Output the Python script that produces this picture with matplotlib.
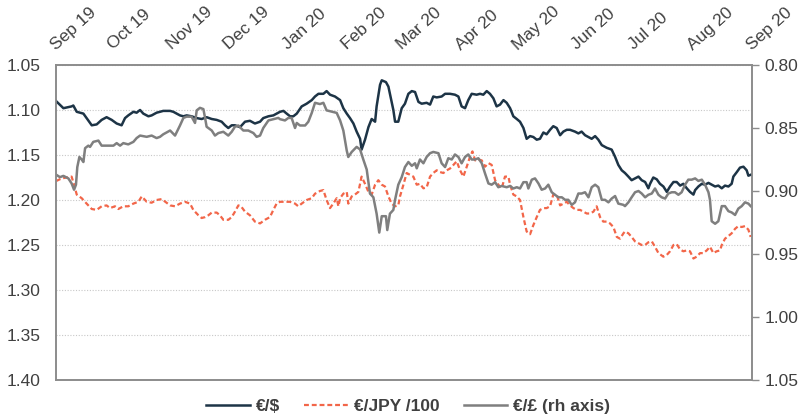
import numpy as np
import pandas as pd
import matplotlib
matplotlib.use("Agg")
import matplotlib.pyplot as plt
import matplotlib.dates as mdates
from matplotlib.ticker import FormatStrFormatter

plt.rcParams['font.family'] = ['Liberation Sans', 'DejaVu Sans']

# ---- data (days since 1 Sep 2019, values) ----
usd_days = [0, 3.9, 8.2, 9.1, 10.9, 14.4, 16.1, 18.8, 21.4, 24.0, 26.6, 29.3, 31.9, 34.5, 36.3, 38.0, 40.7, 42.4, 44.2, 45.9, 48.6, 50.3, 52.9, 56.4,
            60.0, 61.7, 63.5, 65.2, 67.0, 68.7, 71.3, 74.0, 76.6, 79.2, 81.9, 84.5, 87.1, 88.9, 90.6, 92.4, 94.1, 96.8, 99.4, 102.0, 104.6, 107.3, 109.0, 111.7, 114.3, 116.9,
            117.8, 119.6, 121.3, 123.1, 124.8, 126.6, 129.2, 131.8, 134.5, 136.2, 138.0, 140.6, 142.3, 144.1, 146.7, 149.4, 151.1, 152.9, 154.6, 156.4, 158.1, 159.9, 160.7, 162.5, 164.3, 166.0, 167.8, 168.6, 170.4, 171.3, 173.5, 174.8, 175.6, 177.4,
            178.3, 180.0, 181.8, 183.5, 185.3, 187.1, 188.8, 190.6, 192.3, 194.9, 196.7, 198.4, 200.2, 202.8, 204.6, 207.2, 209.8, 211.6, 213.3, 215.1, 216.8, 218.6, 221.2, 223.0, 224.7, 226.5, 228.2, 230.0, 231.7, 233.5, 235.3, 237.0, 238.8,
            240.5, 242.3, 244.0, 245.8, 247.5, 249.3, 251.0, 252.8, 254.5, 256.3, 258.0, 259.8, 261.5, 263.3, 265.1, 266.8, 268.6, 270.3, 272.9, 274.7, 276.4, 278.2, 280.0, 281.7, 283.5, 285.2, 287.0, 289.6, 292.2, 294.0, 295.7, 297.5, 299.2,
            301.0, 302.7, 304.5, 306.3, 308.0, 309.8, 311.5, 312.4, 314.1, 315.9, 317.6, 319.4, 321.2, 322.9, 324.7, 326.4, 328.2, 329.9, 331.7, 333.4, 335.2, 336.1, 337.8, 339.6, 341.3, 343.1, 344.8, 346.6, 348.3, 350.1, 351.8, 353.6, 355.3, 356.2, 358.0, 359.7, 361.5, 363.2, 364.1, 365.3]
usd_vals = [1.090, 1.098, 1.096, 1.095, 1.102, 1.104, 1.109, 1.117, 1.116, 1.111, 1.108, 1.111, 1.115, 1.117, 1.109, 1.106, 1.102, 1.103, 1.100, 1.104, 1.107, 1.106, 1.103, 1.101,
            1.101, 1.102, 1.104, 1.106, 1.107, 1.106, 1.107, 1.109, 1.110, 1.108, 1.110, 1.111, 1.113, 1.117, 1.120, 1.117, 1.117, 1.119, 1.113, 1.112, 1.115, 1.113, 1.109, 1.107, 1.106, 1.103,
            1.102, 1.101, 1.104, 1.107, 1.107, 1.104, 1.096, 1.093, 1.089, 1.085, 1.082, 1.082, 1.079, 1.083, 1.085, 1.089, 1.098, 1.104, 1.109, 1.115, 1.124, 1.132, 1.144, 1.133, 1.119, 1.110, 1.113, 1.096, 1.072, 1.067, 1.069, 1.074, 1.082, 1.100,
            1.113, 1.113, 1.098, 1.093, 1.082, 1.079, 1.080, 1.091, 1.093, 1.092, 1.094, 1.085, 1.086, 1.085, 1.082, 1.082, 1.083, 1.085, 1.096, 1.098, 1.089, 1.082, 1.083, 1.082, 1.083, 1.079, 1.082, 1.087, 1.096, 1.094, 1.089, 1.092, 1.098,
            1.107, 1.110, 1.113, 1.120, 1.132, 1.129, 1.130, 1.133, 1.132, 1.125, 1.127, 1.122, 1.118, 1.120, 1.128, 1.124, 1.122, 1.122, 1.124, 1.126, 1.124, 1.128, 1.130, 1.132, 1.129, 1.133, 1.139, 1.142, 1.144, 1.152, 1.161, 1.167, 1.170,
            1.174, 1.178, 1.176, 1.174, 1.178, 1.180, 1.187, 1.182, 1.175, 1.177, 1.182, 1.185, 1.191, 1.185, 1.180, 1.180, 1.184, 1.182, 1.187, 1.191, 1.194, 1.189, 1.185, 1.182, 1.183, 1.181, 1.183, 1.185, 1.184, 1.187, 1.184, 1.185, 1.182, 1.174, 1.169, 1.164, 1.163, 1.167, 1.173, 1.172]

jpy_days = [0, 3.0, 5.6, 8.2, 9.5, 10.9, 13.5, 16.1, 18.8, 21.4, 24.0, 26.6, 28.4, 31.0, 32.8, 35.4, 38.0, 40.7, 43.3, 45.1, 47.7, 50.3, 52.9, 55.6,
            60.0, 62.6, 65.2, 67.8, 70.5, 72.2, 74.9, 76.6, 78.4, 80.1, 81.9, 84.5, 86.2, 88.0, 90.6, 92.4, 94.1, 95.9, 97.3, 99.4, 102.0, 104.6, 107.3, 109.9, 112.5, 114.3, 116.0,
            117.8, 120.4, 123.1, 125.7, 127.4, 129.2, 131.8, 134.5, 136.2, 138.8, 140.6, 142.3, 144.1, 145.8, 147.6, 148.5, 149.4, 151.1, 152.9, 153.7, 155.5, 157.2, 159.0, 160.7, 162.5, 164.3, 166.0, 167.8, 169.5, 171.3, 173.0, 174.8, 176.5, 178.3,
            180.0, 180.9, 182.7, 184.4, 186.2, 187.9, 189.7, 191.4, 193.2, 194.9, 196.7, 198.4, 200.2, 202.0, 203.7, 205.5, 207.2, 209.0, 210.7, 212.5, 214.2, 216.0, 217.7, 219.0, 220.4, 222.1, 223.9, 225.6, 227.4, 229.1, 230.9, 232.6, 234.4, 236.1, 237.9,
            238.8, 240.5, 242.3, 244.0, 245.8, 247.5, 249.3, 251.0, 252.8, 254.5, 256.3, 258.0, 259.8, 261.5, 263.3, 265.1, 266.8, 268.6, 270.3, 272.1, 273.8, 275.6, 277.3, 279.1, 280.8, 282.6, 284.3, 286.1, 287.8, 289.6, 291.3, 293.1, 294.9, 296.6, 298.4,
            299.2, 301.0, 302.7, 304.5, 306.3, 308.0, 309.8, 311.5, 313.3, 315.0, 316.8, 319.4, 321.2, 322.9, 324.7, 326.4, 328.2, 329.9, 331.7, 333.4, 335.2, 336.9, 338.7, 340.4, 342.2, 343.9, 345.7, 347.4, 349.2, 350.1, 351.8, 353.6, 355.3, 357.1, 358.8, 360.6, 362.3, 364.1, 365.3]
jpy_vals = [1.179, 1.176, 1.175, 1.174, 1.183, 1.194, 1.198, 1.204, 1.210, 1.211, 1.207, 1.206, 1.209, 1.207, 1.210, 1.207, 1.207, 1.204, 1.202, 1.196, 1.202, 1.203, 1.200, 1.199,
            1.206, 1.207, 1.204, 1.202, 1.204, 1.211, 1.217, 1.220, 1.219, 1.217, 1.214, 1.214, 1.217, 1.222, 1.222, 1.219, 1.213, 1.206, 1.207, 1.213, 1.217, 1.224, 1.226, 1.222, 1.219, 1.211, 1.204,
            1.202, 1.202, 1.202, 1.204, 1.207, 1.204, 1.200, 1.198, 1.193, 1.190, 1.189, 1.200, 1.209, 1.204, 1.198, 1.207, 1.198, 1.193, 1.191, 1.204, 1.196, 1.194, 1.191, 1.174, 1.182, 1.191, 1.194, 1.183, 1.178, 1.183, 1.185, 1.196, 1.204, 1.207,
            1.206, 1.196, 1.183, 1.170, 1.172, 1.174, 1.183, 1.182, 1.187, 1.186, 1.174, 1.170, 1.167, 1.169, 1.170, 1.167, 1.165, 1.161, 1.157, 1.167, 1.174, 1.163, 1.152, 1.146, 1.156, 1.155, 1.156, 1.163, 1.159, 1.161, 1.178, 1.183, 1.187, 1.174, 1.174,
            1.183, 1.194, 1.196, 1.200, 1.219, 1.235, 1.238, 1.228, 1.219, 1.211, 1.209, 1.209, 1.207, 1.194, 1.194, 1.206, 1.204, 1.202, 1.206, 1.209, 1.211, 1.211, 1.213, 1.215, 1.215, 1.213, 1.207, 1.219, 1.224, 1.224, 1.226, 1.230, 1.241, 1.243, 1.237,
            1.235, 1.237, 1.241, 1.246, 1.248, 1.250, 1.250, 1.247, 1.246, 1.252, 1.259, 1.263, 1.261, 1.257, 1.250, 1.249, 1.255, 1.257, 1.256, 1.257, 1.265, 1.263, 1.259, 1.259, 1.256, 1.252, 1.259, 1.257, 1.256, 1.250, 1.243, 1.240, 1.237, 1.232, 1.229, 1.230, 1.229, 1.233, 1.241]

gbp_days = [0, 2.1, 3.9, 6.5, 8.2, 9.5, 10.5, 11.2, 12.3, 13.5, 14.4, 15.3, 17.0, 17.9, 19.6, 22.3, 24.0, 27.5, 30.2, 31.9, 33.7, 35.4, 38.0, 40.7, 42.4, 44.2, 47.7, 50.3, 52.9, 54.7, 56.4,
            60.0, 62.6, 65.2, 67.0, 68.7, 71.3, 73.1, 74.0, 75.7, 77.5, 78.4, 79.2, 81.9, 83.6, 85.4, 88.0, 90.6, 92.4, 94.1, 95.9, 98.5, 101.1, 103.8, 105.5, 107.3, 109.0, 111.7, 114.3, 116.9,
            117.8, 120.4, 122.2, 123.9, 125.7, 126.6, 128.3, 131.0, 132.7, 134.5, 136.2, 138.8, 140.6, 142.3, 145.0, 147.6, 149.4, 151.1, 152.9, 153.7, 155.5, 158.1, 159.9, 161.6, 163.4, 165.1, 166.9, 168.6, 170.0, 171.3, 173.5, 174.2, 175.6, 177.4,
            178.3, 180.0, 181.8, 183.5, 185.3, 187.1, 188.8, 189.7, 191.4, 193.2, 194.9, 196.7, 198.4, 201.1, 202.8, 204.6, 206.3, 208.1, 209.8, 211.6, 213.3, 215.1, 216.8, 218.6, 220.4, 222.1, 223.9, 225.6, 227.4, 229.1, 230.9, 232.6, 234.4, 237.0, 238.8,
            240.5, 242.3, 244.0, 245.8, 247.5, 248.4, 250.2, 251.9, 253.7, 255.4, 257.2, 258.9, 260.7, 262.4, 264.2, 266.0, 267.7, 269.4, 271.2, 272.9, 274.7, 276.4, 278.2, 280.0, 281.7, 283.5, 285.2, 287.0, 288.7, 290.5, 292.2, 294.0, 295.7, 298.4,
            299.2, 301.0, 302.7, 304.5, 306.3, 308.0, 309.8, 311.5, 313.3, 315.0, 316.8, 318.5, 320.3, 322.0, 323.8, 325.5, 327.3, 329.0, 330.8, 332.5, 334.3, 336.1, 337.8, 339.6, 341.3, 343.1, 343.9, 344.8, 346.6, 348.3, 350.1, 351.8, 353.6, 355.3, 357.1, 358.8, 360.6, 362.3, 364.1, 365.3]
gbp_vals = [0.887, 0.889, 0.888, 0.890, 0.894, 0.899, 0.895, 0.881, 0.873, 0.875, 0.877, 0.866, 0.864, 0.865, 0.861, 0.860, 0.864, 0.864, 0.864, 0.862, 0.864, 0.862, 0.863, 0.861, 0.858, 0.856, 0.857, 0.856, 0.858, 0.857, 0.855,
            0.852, 0.856, 0.848, 0.842, 0.841, 0.841, 0.846, 0.836, 0.834, 0.835, 0.842, 0.849, 0.852, 0.856, 0.854, 0.853, 0.856, 0.853, 0.849, 0.848, 0.852, 0.852, 0.854, 0.857, 0.856, 0.850, 0.844, 0.843, 0.842,
            0.843, 0.844, 0.842, 0.842, 0.850, 0.846, 0.848, 0.848, 0.845, 0.838, 0.830, 0.831, 0.830, 0.836, 0.837, 0.838, 0.844, 0.852, 0.868, 0.873, 0.869, 0.865, 0.867, 0.875, 0.883, 0.902, 0.905, 0.918, 0.933, 0.920, 0.920, 0.931, 0.918, 0.915,
            0.907, 0.895, 0.889, 0.881, 0.877, 0.880, 0.878, 0.882, 0.875, 0.878, 0.873, 0.870, 0.869, 0.870, 0.878, 0.881, 0.874, 0.875, 0.871, 0.873, 0.878, 0.873, 0.871, 0.875, 0.875, 0.874, 0.878, 0.886, 0.894, 0.895, 0.893, 0.897, 0.896, 0.897, 0.896,
            0.898, 0.897, 0.898, 0.893, 0.893, 0.898, 0.891, 0.890, 0.894, 0.899, 0.898, 0.895, 0.901, 0.903, 0.905, 0.905, 0.907, 0.907, 0.911, 0.909, 0.902, 0.902, 0.901, 0.905, 0.897, 0.895, 0.897, 0.907, 0.907, 0.909, 0.906, 0.904, 0.910, 0.911,
            0.912, 0.909, 0.905, 0.901, 0.900, 0.902, 0.905, 0.903, 0.902, 0.898, 0.903, 0.905, 0.906, 0.902, 0.901, 0.901, 0.903, 0.901, 0.895, 0.891, 0.891, 0.890, 0.892, 0.891, 0.895, 0.901, 0.907, 0.924, 0.926, 0.924, 0.912, 0.912, 0.916, 0.917, 0.919, 0.914, 0.912, 0.909, 0.910, 0.912]

series_labels = ['€/$', '€/JPY /100', '€/£ (rh axis)']
left_ticks = [1.05, 1.10, 1.15, 1.20, 1.25, 1.30, 1.35, 1.40]
right_ticks = [0.80, 0.85, 0.90, 0.95, 1.00, 1.05]
start_date = '2019-09-01'
end_date = '2020-09-01'

# ---- styling ----
TXT = '#404040'
SPINE = '#8c8c8c'
FS = 12.5

base = pd.Timestamp(start_date)


def to_dates(days):
    return base + pd.to_timedelta(np.asarray(days, dtype=float), unit='D')


W, H = 805, 417
fig = plt.figure(figsize=(W / 100, H / 100), dpi=100)
ax = fig.add_axes([56 / W, 1 - 380 / H, 696 / W, 315 / H])
ax2 = ax.twinx()

l1, = ax.plot(to_dates(usd_days), usd_vals, color='#1d3446', lw=1.8, label=series_labels[0], zorder=3)
l2, = ax.plot(to_dates(jpy_days), jpy_vals, color='#f26649', lw=1.6, ls=(0, (2.2, 1.3)), label=series_labels[1], zorder=2)
l3, = ax2.plot(to_dates(gbp_days), gbp_vals, color='#7f7f7f', lw=1.8, label=series_labels[2])

ax.set_ylim(left_ticks[-1], left_ticks[0])
ax.set_yticks(left_ticks)
ax.yaxis.set_major_formatter(FormatStrFormatter('%.2f'))
ax2.set_ylim(right_ticks[-1], right_ticks[0])
ax2.set_yticks(right_ticks)
ax2.yaxis.set_major_formatter(FormatStrFormatter('%.2f'))

ax.set_xlim(pd.Timestamp(start_date), pd.Timestamp(end_date))
ax.xaxis.set_major_locator(mdates.MonthLocator())
ax.xaxis.set_major_formatter(mdates.DateFormatter('%b %y'))
ax.xaxis.tick_top()
ax.tick_params(axis='x', length=0, pad=10.5, labelsize=FS, labelcolor=TXT)
for lab in ax.get_xticklabels():
    lab.set_rotation(42)
    lab.set_ha('left')
    lab.set_va('baseline')
    lab.set_rotation_mode('anchor')

ax.tick_params(axis='y', length=0, pad=11, labelsize=FS, labelcolor=TXT)
ax2.tick_params(axis='y', length=5, width=1, color=SPINE, pad=4, labelsize=FS, labelcolor=TXT)

ax.yaxis.grid(True, ls=(0, (1, 1.5)), color='#c8c8c8', lw=0.8)
ax.set_axisbelow(True)

for a in (ax, ax2):
    for s in a.spines.values():
        s.set_color(SPINE)
        s.set_linewidth(1.2)

leg = fig.legend(handles=[l1, l2, l3], loc='center', bbox_to_anchor=(0.507, 0.026), ncol=3,
                 frameon=False, handlelength=2.5, handletextpad=0.35, columnspacing=1.4,
                 prop={'size': FS, 'weight': 'bold'})
for t in leg.get_texts():
    t.set_color(TXT)

fig.savefig('out.png', dpi=100)
